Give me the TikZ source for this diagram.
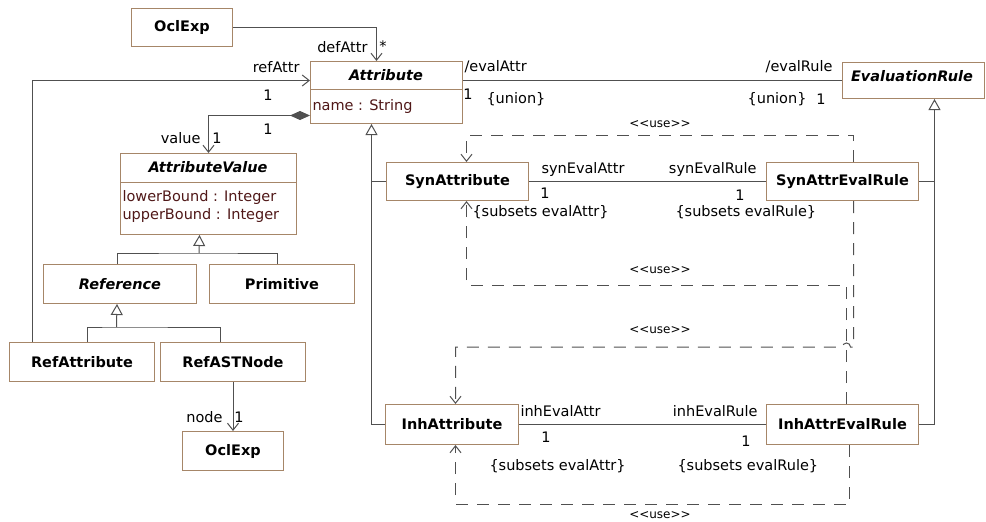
\documentclass[tikz,border=0pt]{standalone}
\usepackage{fontspec}
\setmainfont{DejaVu Sans}[Ligatures=TeXOff]
\usetikzlibrary{arrows.meta}

\definecolor{boxbrown}{RGB}{166,134,104}
\definecolor{linegray}{RGB}{80,80,80}
\definecolor{attrred}{RGB}{80,24,24}

\begin{document}
\begin{tikzpicture}[x=1pt,y=-1pt,line width=1pt,
    every node/.style={font=\fontsize{14.5}{18}\selectfont,inner sep=0pt},
    assoc/.style={draw=linegray,-{Straight Barb[length=7pt,width=11pt]}},
    conn/.style={draw=linegray},
    gen/.style={draw=linegray,-{Triangle[open,fill=white,length=11pt,width=12pt]}},
    compos/.style={draw=linegray,{Diamond[length=20pt,width=9pt]}-{Straight Barb[length=7pt,width=11pt]}},
    usedep/.style={draw=linegray,dash pattern=on 12pt off 9pt,-{Straight Barb[length=7pt,width=11pt]}}]
  \tikzstyle{cls}=[draw=boxbrown,fill=white,anchor=north west,font=\fontsize{14.5}{18}\selectfont\bfseries]
  \tikzstyle{abscls}=[cls,font=\fontsize{14.5}{18}\selectfont\bfseries\itshape]
  \tikzstyle{hdr}=[font=\fontsize{14.5}{18}\selectfont\bfseries\itshape]
  \tikzstyle{member}=[anchor=west,text=attrred]
  \tikzstyle{usetxt}=[font=\fontsize{12}{14}\selectfont]

  \useasboundingbox (0,0) rectangle (986,522);

  \node[cls,minimum width=101pt,minimum height=38pt]  (oclTop)  at (131,8)   {OclExp};
  \node[cls,minimum width=152pt,minimum height=62pt]  (attr)    at (310,61)  {};
  \node[hdr]                                          (attrHd)  at (386,75)  {Attribute};
  \node[member]                                       (attrNm)  at (312,106) {name : String};
  \node[cls,minimum width=142pt,minimum height=36pt]  (evalR)   at (842,62)  {};
  \node[hdr]                                          (evalRHd) at (912,76)  {EvaluationRule};
  \node[cls,minimum width=176pt,minimum height=81pt]  (avalue)  at (120,153) {};
  \node[hdr]                                          (avHd)    at (208,167) {AttributeValue};
  \node[member]                                       (avLow)   at (122,197) {lowerBound : Integer};
  \node[member]                                       (avUp)    at (122,215) {upperBound : Integer};
  \node[abscls,minimum width=153pt,minimum height=39pt] (reference) at (43,264) {Reference};
  \node[cls,minimum width=145pt,minimum height=39pt]  (primitive) at (209,264) {Primitive};
  \node[cls,minimum width=145pt,minimum height=39pt]  (refAttr) at (9,342)   {RefAttribute};
  \node[cls,minimum width=145pt,minimum height=39pt]  (refAST)  at (160,342) {RefASTNode};
  \node[cls,minimum width=101pt,minimum height=39pt]  (oclBot)  at (182,431) {OclExp};
  \node[cls,minimum width=142pt,minimum height=38pt]  (synA)    at (386,162) {SynAttribute};
  \node[cls,minimum width=152pt,minimum height=38pt]  (synR)    at (766,162) {SynAttrEvalRule};
  \node[cls,minimum width=133pt,minimum height=40pt]  (inhA)    at (385,404) {InhAttribute};
  \node[cls,minimum width=152pt,minimum height=40pt]  (inhR)    at (766,404) {InhAttrEvalRule};

  % compartments
  \draw[boxbrown] ([yshift=-28pt]attr.north west) -- ([yshift=-28pt]attr.north east);
  \draw[boxbrown] ([yshift=-29pt]avalue.north west) -- ([yshift=-29pt]avalue.north east);

  % associations
  \draw[assoc] (oclTop.east) -| ([xshift=-10pt]attr.north);
  \draw[assoc] ([xshift=23pt]refAttr.north west) |- ([yshift=12pt]attr.west);
  \draw[compos] ([yshift=-23pt]attr.west) -| (avalue.north);
  \draw[assoc] (refAST.south) -- (oclBot.north);
  \draw[conn] ([yshift=12pt]attr.east) -- (evalR.west);
  \draw[conn] (synA.east) -- (synR.west);
  \draw[conn] (inhA.east) -- (inhR.west);

  % generalizations
  \coordinate (avJoin)  at (199,253);
  \coordinate (refJoin) at (116.5,327);
  \draw[conn] ([xshift=-3pt]reference.north) |- (avJoin) -| ([xshift=-5pt]primitive.north);
  \draw[gen] (avJoin) -- ([xshift=-9pt]avalue.south);
  \draw[conn] ([xshift=5pt]refAttr.north) |- (refJoin) -| ([xshift=-13pt]refAST.north);
  \draw[gen] (refJoin) -- ([xshift=-3pt]reference.south);
  \draw[gen] (inhA.west) -| ([xshift=-15pt]attr.south);
  \draw[conn] (synA.west) -- ++(-15,0);
  \draw[gen] (inhR.east) -| ([xshift=21pt]evalR.south);
  \draw[conn] (synR.east) -- ++(15,0);

  % dependencies
  \draw[usedep] ([xshift=11pt]synR.north) -- ++(0,-27) -| ([xshift=9pt]synA.north);
  \draw[usedep] ([xshift=4pt]inhR.north) -- ++(0,-119) -| ([xshift=9pt]synA.south);
  \draw[usedep] ([xshift=11pt]synR.south) -- ++(0,146) -- ++(-3,0)
                arc[start angle=0,end angle=-180,radius=4] -| ([xshift=3.5pt]inhA.north);
  \draw[usedep] ([xshift=7pt]inhR.south) -- ++(0,59) -| ([xshift=3.5pt]inhA.south);

  \node[usetxt] (useA) at (660,124) {<<use>>};
  \node[usetxt] (useB) at (660,270) {<<use>>};
  \node[usetxt] (useC) at (660,330) {<<use>>};
  \node[usetxt] (useD) at (660,515) {<<use>>};

  % role names and multiplicities
  \node[anchor=east] (defAttr)  at (368,47)  {defAttr};
  \node (defMul)   at (383,46)  {*};
  \node[anchor=east] (refRole)  at (300,67)  {refAttr};
  \node (refMul)   at (268,95)  {1};
  \node (valOwn)   at (268,129) {1};
  \node[anchor=east] (valRole)  at (201,138) {value};
  \node (valMul)   at (217,138) {1};
  \node[anchor=east] (nodeRole) at (223,417) {node};
  \node (nodeMul)  at (239,417) {1};
  \node[anchor=west] (eaRole)   at (464,67)  {/evalAttr};
  \node (eaMul)    at (468,94)  {1};
  \node[anchor=west] (eaUnion)  at (486,99)  {\{union\}};
  \node[anchor=east] (erRole)   at (833,67)  {/evalRule};
  \node[anchor=east] (erUnion)  at (807,99)  {\{union\}};
  \node (erMul)    at (821,99)  {1};
  \node[anchor=west] (seaRole)  at (541,169) {synEvalAttr};
  \node[anchor=east] (serRole)  at (757,169) {synEvalRule};
  \node (seaMul)   at (545,193) {1};
  \node (serMul)   at (740,195) {1};
  \node[anchor=west] (seaSub)   at (472,212) {\{subsets evalAttr\}};
  \node[anchor=west] (serSub)   at (675,212) {\{subsets evalRule\}};
  \node[anchor=west] (ieaRole)  at (520,411) {inhEvalAttr};
  \node[anchor=east] (ierRole)  at (758,411) {inhEvalRule};
  \node (ieaMul)   at (546,437) {1};
  \node (ierMul)   at (746,441) {1};
  \node[anchor=west] (ieaSub)   at (489,466) {\{subsets evalAttr\}};
  \node[anchor=west] (ierSub)   at (677,466) {\{subsets evalRule\}};
\end{tikzpicture}
\end{document}
